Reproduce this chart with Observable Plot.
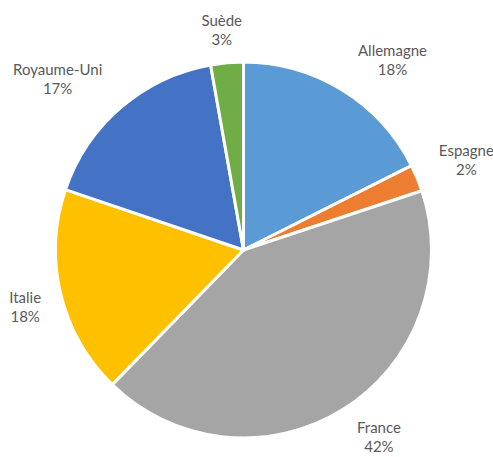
<!DOCTYPE html>
<html><head><meta charset="utf-8">
<script src="https://cdn.jsdelivr.net/npm/d3@7"></script>
<script src="https://cdn.jsdelivr.net/npm/@observablehq/plot@0.6"></script>
<style>body{margin:0;background:#fff}</style>
</head><body><div id="chart"></div>
<script>
// Data
const countries = ["Allemagne", "Espagne", "France", "Italie", "Royaume-Uni", "Suède"];
const shares = [17.6, 2.3, 42.4, 17.9, 17.0, 2.8];
const palette = ["#5B9BD5", "#ED7D31", "#A5A5A5", "#FFC000", "#4472C4", "#70AD47"];

// Layout
const W = 493, H = 457;
const margin = {left: 55.5, right: 61.5, top: 62, bottom: 19};
const rpx = (W - margin.left - margin.right) / 2;
const fontSize = 15, lineH = 19.5, fontFamily = "Lato";
const ctx = document.createElement("canvas").getContext("2d");
ctx.font = `${fontSize}px ${fontFamily}`;

const data = countries.map((c, i) => ({country: c, value: shares[i], color: palette[i]}));
const arcs = d3.pie().sort(null).value(d => d.value)(data);
const total = d3.sum(shares);
const clamp = v => Math.max(-1, Math.min(1, v));
// lowest allowed block centre (pixels below pie centre) so the last line stays inside the frame
const maxBelow = (H - margin.bottom - rpx) ? (H - (margin.top + rpx)) - lineH / 2 - fontSize * 0.75 : 0;

const labels = arcs.map(p => {
  const a = (p.startAngle + p.endAngle) / 2;
  const s = Math.sin(a), c = Math.cos(a);
  const lines = [p.data.country, Math.round(p.data.value / total * 100) + "%"];
  const hw = 1.17 * d3.max(lines, t => ctx.measureText(t).width) / 2;
  const hh = 16;
  const R = 1.095 * rpx;
  const px = R * s + hw * clamp(2 * s);
  let py = R * c + hh * clamp(2 * c);
  py = Math.max(py, -maxBelow);
  return {x: px / rpx, y: py / rpx, text: lines.join("\n")};
});

function slices(index, scales) {
  const x = scales.x, y = scales.y;
  const cx = x(0), cy = y(0), r = x(1) - x(0);
  const arc = d3.arc().innerRadius(0).outerRadius(r);
  const g = d3.create("svg:g").attr("transform", `translate(${cx},${cy})`);
  g.selectAll("path").data(arcs).join("path")
    .attr("d", arc)
    .attr("fill", d => d.data.color)
    .attr("stroke", "#fff")
    .attr("stroke-width", 3)
    .attr("stroke-linejoin", "round");
  return g.node();
}

const chart = Plot.plot({
  width: W, height: H,
  marginLeft: margin.left, marginRight: margin.right,
  marginTop: margin.top, marginBottom: margin.bottom,
  x: {domain: [-1, 1], axis: null},
  y: {domain: [-1, 1], axis: null},
  style: {background: "#fff"},
  marks: [
    slices,
    Plot.text(labels, {
      x: "x", y: "y", text: "text",
      fill: "#595959", fontSize, fontFamily,
      lineHeight: lineH / fontSize, lineAnchor: "middle", textAnchor: "middle"
    })
  ]
});
document.getElementById("chart").append(chart);
</script>
</body></html>
